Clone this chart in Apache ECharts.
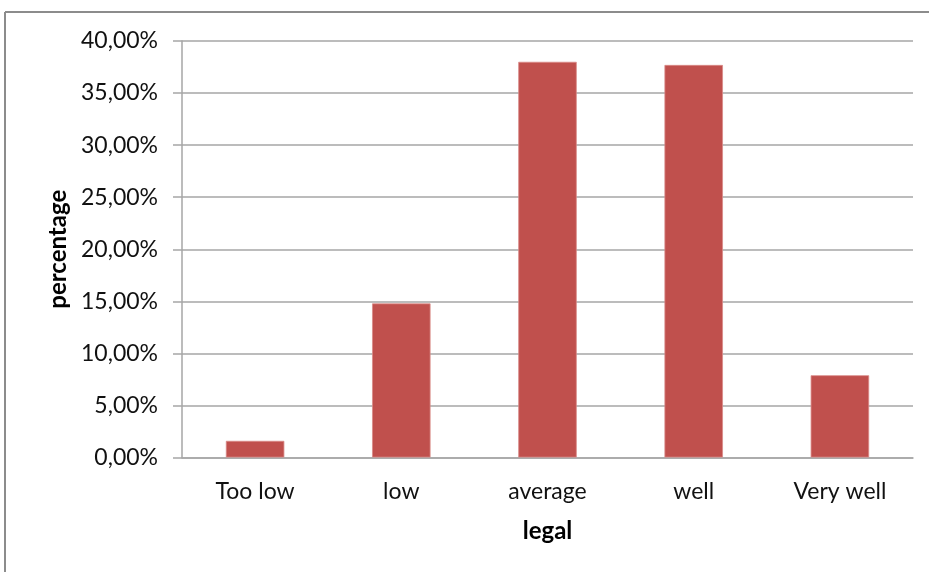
<!DOCTYPE html>
<html>
<head>
<meta charset="utf-8">
<script src="https://cdn.jsdelivr.net/npm/echarts@6/dist/echarts.min.js"></script>
<style>
  html, body { margin: 0; padding: 0; background: #fff; }
  #chart { width: 929px; height: 572px; }
</style>
</head>
<body>
<div id="chart"></div>
<script>
// Rating categories on the x axis
const categories = ['Too low', 'low', 'average', 'well', 'Very well'];
// Share of responses per category, in percent
const percentages = [1.6, 14.8, 38.0, 37.7, 7.9];
// Value axis range and step, in percent
const yMin = 0;
const yMax = 40;
const yStep = 5;

const FONT = 'Lato';
const NARROW = '"Liberation Sans Narrow", "Arial Narrow", Lato';
const chart = echarts.init(document.getElementById('chart'));

chart.setOption({
  animation: false,
  backgroundColor: '#ffffff',
  textStyle: { fontFamily: FONT },
  grid: { left: 182, right: 16, top: 41, bottom: 114.5, containLabel: false },
  xAxis: {
    type: 'category',
    data: categories,
    name: 'legal',
    nameLocation: 'middle',
    nameGap: 62,
    nameTextStyle: { fontFamily: FONT, fontSize: 24, fontWeight: 'bold', color: '#000' },
    axisLine: { lineStyle: { color: '#a6a6a6', width: 1.5 } },
    axisTick: { show: false },
    axisLabel: { fontFamily: FONT, fontSize: 23, color: '#111', margin: 23 }
  },
  yAxis: {
    type: 'value',
    min: yMin,
    max: yMax,
    interval: yStep,
    name: 'percentage',
    nameLocation: 'middle',
    nameGap: 110,
    nameRotate: 90,
    nameTextStyle: { fontFamily: FONT, fontSize: 24, fontWeight: 'bold', color: '#000' },
    axisLine: { show: true, lineStyle: { color: '#a6a6a6', width: 1.5 } },
    axisTick: { show: true, length: 9, lineStyle: { color: '#a6a6a6', width: 1.5 } },
    axisLabel: {
      fontFamily: NARROW, fontSize: 23, color: '#111', margin: 24,
      formatter: v => v.toFixed(2).replace('.', ',') + '%'
    },
    splitLine: { lineStyle: { color: '#a6a6a6', width: 1.5 } }
  },
  series: [{
    type: 'bar',
    data: percentages,
    barWidth: '40%',
    itemStyle: { color: '#c0504d', borderColor: '#d98a88', borderWidth: 0.8 }
  }],
  graphic: [
    { type: 'line', shape: { x1: 5, y1: 12, x2: 929, y2: 12 }, style: { stroke: '#8c8c8c', lineWidth: 2 } },
    { type: 'line', shape: { x1: 5, y1: 12, x2: 5, y2: 572 }, style: { stroke: '#8c8c8c', lineWidth: 2 } }
  ]
});
</script>
</body>
</html>
